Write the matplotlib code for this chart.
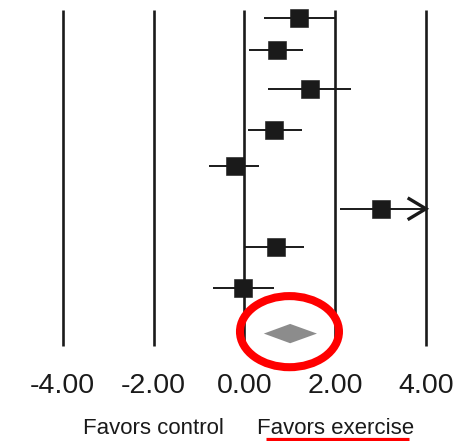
import matplotlib
matplotlib.use("Agg")
import matplotlib.pyplot as plt
from matplotlib.patches import Ellipse, Polygon

plt.rcParams["font.family"] = ["Liberation Sans", "DejaVu Sans"]

# Per-study effect sizes with 95% confidence intervals
estimates = [1.21, 0.72, 1.45, 0.66, -0.21, 3.01, 0.69, -0.02]
ci_low = [0.44, 0.11, 0.52, 0.08, -0.77, 2.11, 0.02, -0.69]
ci_high = [2.00, 1.30, 2.35, 1.28, 0.32, 4.60, 1.32, 0.66]

# Pooled estimate
pooled_est = 1.01
pooled_low = 0.43
pooled_high = 1.60

ticks = [-4, -2, 0, 2, 4]
tick_labels = ["-4.00", "-2.00", "0.00", "2.00", "4.00"]
side_labels = ["Favors control", "Favors exercise"]
side_positions = [-2, 2]

# vertical placement of the study rows and the pooled row
row_pos = [0, 0.85, 1.85, 2.9, 3.85, 4.95, 5.95, 7.0]
pooled_pos = 8.18

XMIN, XMAX = -4, 4
dark = "#1a1a1a"

fig = plt.figure(figsize=(4.63, 4.41), dpi=100)
ax = fig.add_axes([0, 0, 1, 1])
ax.set_xlim(-5.381, 4.817)
ax.set_ylim(10.96, -0.453)
ax.axis("off")

# reference lines
ax.vlines(ticks, -0.19, 8.5, color=dark, lw=1.9, zorder=1)

for y, est, lo, hi in zip(row_pos, estimates, ci_low, ci_high):
    right = min(hi, XMAX)
    ax.plot([max(lo, XMIN), right], [y, y], color=dark, lw=1.4, zorder=2,
            solid_capstyle="butt")
    ax.plot(est, y, marker="s", ms=13.2, color=dark, mec=dark, mew=0.4, zorder=3)
    if hi > XMAX:
        ax.plot([right - 0.37, right, right - 0.37], [y - 0.26, y, y + 0.26],
                color=dark, lw=2.4, zorder=3, solid_joinstyle="miter")

# pooled diamond
h = 0.25
ax.add_patch(Polygon([(pooled_low, pooled_pos), (pooled_est, pooled_pos - h),
                      (pooled_high, pooled_pos), (pooled_est, pooled_pos + h)],
                     closed=True, facecolor="#8c8c8c", edgecolor="none", zorder=3))

# highlight ring around the pooled estimate
ax.add_patch(Ellipse((0.995, 8.13), 2.18, 1.84, fill=False,
                     edgecolor="#ff0000", lw=5.8, zorder=4))

for t, lab in zip(ticks, tick_labels):
    ax.text(t, 9.72, lab, ha="center", va="baseline", fontsize=20.5, color=dark)

for x, lab in zip(side_positions, side_labels):
    ax.text(x, 10.78, lab, ha="center", va="baseline", fontsize=16, color=dark)

ax.plot([0.471, 3.62], [10.91, 10.91], color="#ff0000", lw=2.3,
        solid_capstyle="butt", zorder=4)

fig.savefig("out.png", dpi=100)
